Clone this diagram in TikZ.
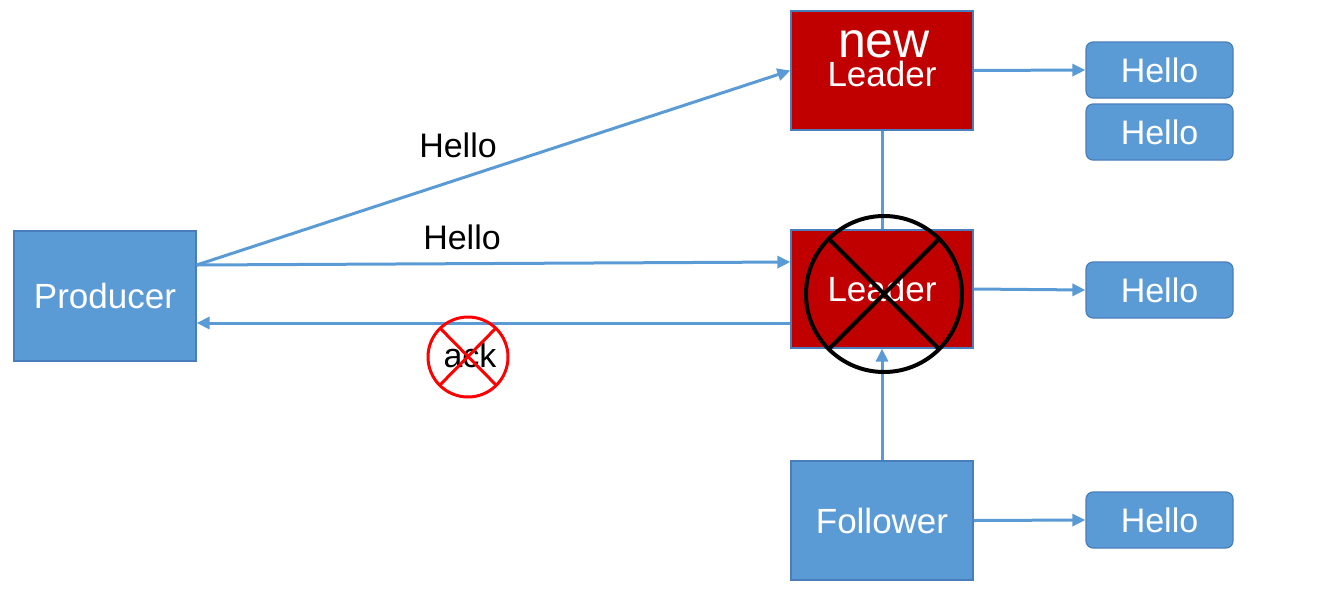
\documentclass[tikz,border=0pt]{standalone}
\usepackage{fontspec}
\setmainfont{Liberation Sans}
\usetikzlibrary{arrows.meta}
\definecolor{boxblue}{HTML}{5B9BD5}
\definecolor{edgeblue}{HTML}{4A7EBB}
\definecolor{lineblue}{HTML}{5B9BD5}
\definecolor{leadred}{HTML}{C00000}
\tikzset{
  bluebox/.style={draw=edgeblue, line width=1.2pt, fill=boxblue, text=white, minimum width=182pt, inner sep=0pt, font=\fontsize{35}{40}\selectfont},
  redbox/.style={draw=edgeblue, line width=1.2pt, fill=leadred, text=white, minimum width=182pt, inner sep=0pt, font=\fontsize{35}{40}\selectfont},
  hellobox/.style={draw=edgeblue, line width=1.2pt, fill=boxblue, text=white, rounded corners=7pt, minimum width=147pt, minimum height=56pt, inner sep=0pt, font=\fontsize{34}{40}\selectfont},
  conn/.style={draw=lineblue, line width=3pt, -{Triangle[length=13pt,width=12pt]}},
  plainconn/.style={draw=lineblue, line width=3pt},
  lbl/.style={inner sep=0pt, font=\fontsize{34}{40}\selectfont},
}
\begin{document}
\begin{tikzpicture}[x=1pt,y=-1pt]
\useasboundingbox (0,0) rectangle (1328,598);
% boxes
\node[bluebox, minimum height=130pt] (prod) at (105,296) {Producer};
\node[redbox, minimum height=119pt] (newlead) at (882,70.5) {};
\node[text=white, inner sep=0pt, font=\fontsize{50}{55}\selectfont] (newtxt) at (884,44) {new};
\node[text=white, inner sep=0pt, font=\fontsize{35}{40}\selectfont] (newtxt2) at (882,74) {Leader};
\node[redbox, minimum height=118pt] (lead) at (882,289) {Leader};
\node[bluebox, minimum height=119pt] (foll) at (882,520.5) {Follower};
\node[hellobox] (h1) at (1159.5,70) {Hello};
\node[hellobox] (h2) at (1159.5,132) {Hello};
\node[hellobox] (h3) at (1159.5,290) {Hello};
\node[hellobox] (h4) at (1159.5,520) {Hello};
% connectors
\draw[conn] ([yshift=31pt]prod.east) -- (newlead.west);
\draw[conn] ([yshift=31pt]prod.east) -- ([yshift=27pt]lead.west);
\draw[conn] ([yshift=-34pt]lead.west) -- ([yshift=-27pt]prod.east);
\draw[plainconn] (newlead.south) -- (lead.north);
\draw[conn] (foll.north) -- (lead.south);
\draw[conn] (newlead.east) -- (h1.west);
\draw[conn] (lead.east) -- (h3.west);
\draw[conn] (foll.east) -- (h4.west);
% labels
\node[lbl] (l1) at (458,145) {Hello};
\node[lbl] (l2) at (462,237) {Hello};
\node[lbl] (l3) at (470,355) {ack};
% crosses
\coordinate (bc) at (884,294);
\draw[black, line width=4pt] (bc) circle[radius=78pt];
\draw[black, line width=4pt] (bc) ++(-55,-55) -- ++(110,110);
\draw[black, line width=4pt] (bc) ++(55,-55) -- ++(-110,110);
\coordinate (rc) at (468,357);
\draw[red, line width=3pt] (rc) circle[radius=40pt];
\draw[red, line width=3pt] (rc) ++(-28,-29) -- ++(57,58);
\draw[red, line width=3pt] (rc) ++(28,-29) -- ++(-57,58);
\end{tikzpicture}
\end{document}
